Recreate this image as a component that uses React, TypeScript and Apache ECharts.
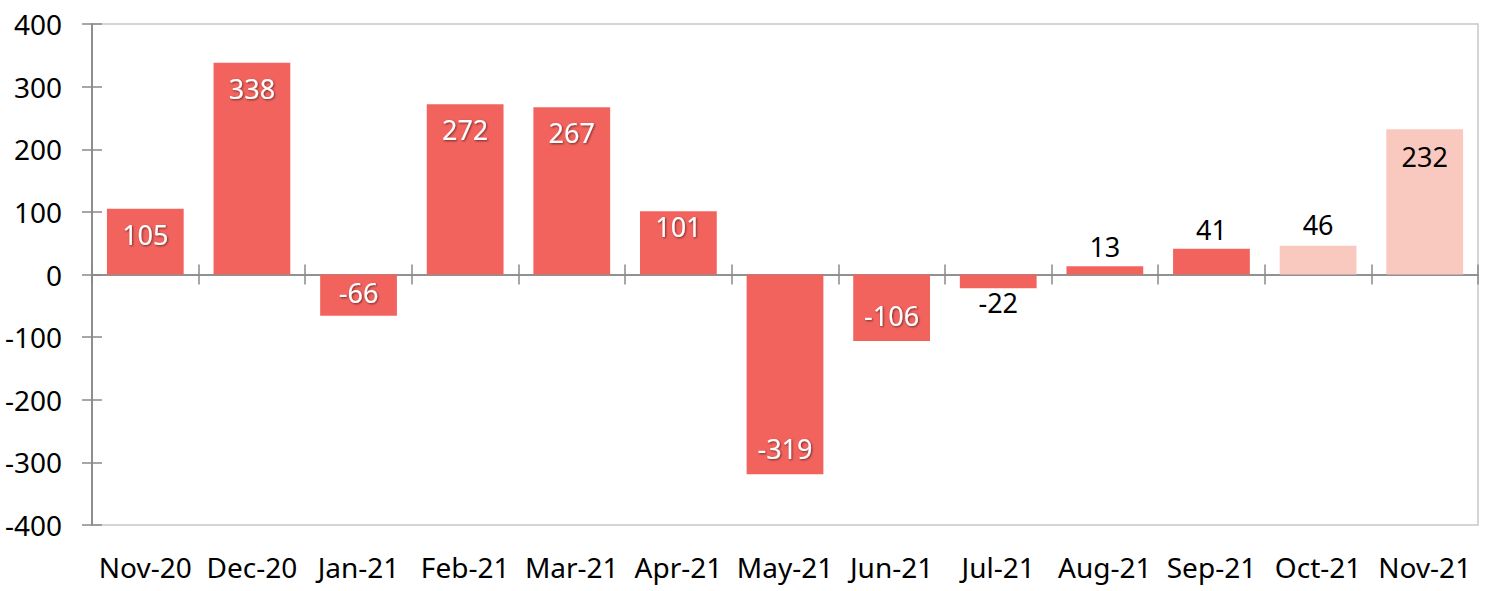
import React, { useEffect, useRef } from "react";
import * as echarts from "echarts";

const categories = ["Nov-20", "Dec-20", "Jan-21", "Feb-21", "Mar-21", "Apr-21", "May-21", "Jun-21", "Jul-21", "Aug-21", "Sep-21", "Oct-21", "Nov-21"];
const values = [105, 338, -66, 272, 267, 101, -319, -106, -22, 13, 41, 46, 232];
const lightIdx = [11, 12];
const labelPos = ["insideTop", "insideTop", "insideBottom", "insideTop", "insideTop", "insideTop", "insideBottom", "insideBottom", "bottom", "top", "top", "top", "insideTop"];
const labelDist = [12, 12, 10, 12, 12, 2, 12, 12, 1, 6, 6, 8, 14];
const yTicks = { min: -400, max: 400, interval: 100 };

const RED = "#F2635E";
const LIGHT = "#F9C8BE";
const FONT = "Noto Sans";

export default function App() {
  const ref = useRef<HTMLDivElement>(null);
  useEffect(() => {
    const chart = echarts.init(ref.current!, undefined, { renderer: "svg" });
    const data = values.map((v, i) => {
      const light = lightIdx.includes(i);
      const pos = labelPos[i];
      const inside = pos.startsWith("inside");
      const white = inside && !light;
      return {
        value: v,
        itemStyle: { color: light ? LIGHT : RED },
        label: {
          show: true,
          position: pos,
          distance: labelDist[i],
          color: white ? "#fff" : "#000",
          fontSize: 27,
          fontFamily: FONT,
          textShadowColor: white ? "rgba(0,0,0,0.55)" : "transparent",
          textShadowBlur: white ? 2 : 0,
          textShadowOffsetX: white ? 1 : 0,
          textShadowOffsetY: white ? 1 : 0,
        },
      };
    });
    const axisLineStyle = { color: "#8a8a8a", width: 1.5 };
    chart.setOption({
      animation: false,
      grid: { left: 92, right: 12, top: 24, bottom: 66, show: true, borderColor: "#c8c8c8", borderWidth: 1.5 },
      xAxis: [
        {
          type: "category", position: "bottom", data: categories, axisLine: { onZero: true, lineStyle: axisLineStyle },
          axisTick: { show: true, length: 10, inside: false, lineStyle: axisLineStyle }, axisLabel: { show: false },
        },
        {
          type: "category", position: "bottom", data: categories, axisLine: { onZero: true, lineStyle: axisLineStyle },
          axisTick: { show: true, length: 10, inside: true, lineStyle: axisLineStyle }, axisLabel: { show: false },
        },
        {
          type: "category", data: categories, position: "bottom", axisLine: { show: false, onZero: false },
          axisTick: { show: false },
          axisLabel: { show: true, fontSize: 28, fontFamily: FONT, color: "#000", margin: 28, interval: 0 },
        },
      ],
      yAxis: [
        {
          type: "value", position: "left", ...yTicks, splitLine: { show: false },
          axisLine: { show: true, lineStyle: axisLineStyle },
          axisTick: { show: true, length: 10, inside: false, lineStyle: axisLineStyle },
          axisLabel: { fontSize: 28, fontFamily: FONT, color: "#000", margin: 30 },
        },
        {
          type: "value", position: "left", ...yTicks, splitLine: { show: false },
          axisLine: { show: true, lineStyle: axisLineStyle },
          axisTick: { show: true, length: 10, inside: true, lineStyle: axisLineStyle },
          axisLabel: { show: false },
        },
      ],
      series: [
        { type: "bar", xAxisIndex: 0, yAxisIndex: 0, barWidth: "72%", data },
      ],
    });
    return () => chart.dispose();
  }, []);
  return <div ref={ref} style={{ position: "absolute", left: 0, top: 0, width: 1490, height: 591, background: "#fff" }} />;
}
